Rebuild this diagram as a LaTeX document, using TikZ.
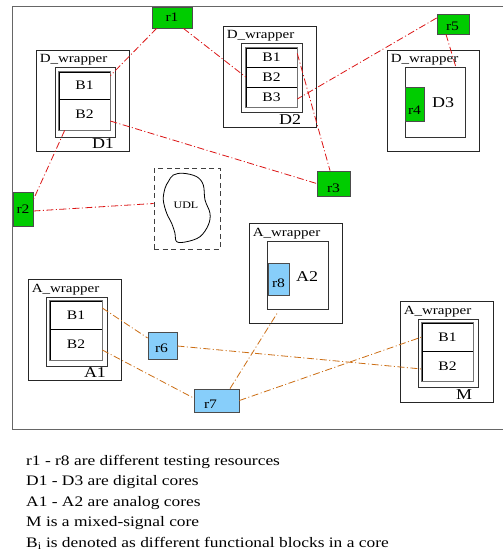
\documentclass[tikz,border=0pt]{standalone}
\usepackage{fontspec}
\setmainfont{Liberation Serif}[FakeStretch=1.2]
\usetikzlibrary{calc}
\definecolor{rgreen}{RGB}{0,204,0}
\definecolor{rblue}{RGB}{135,206,250}
\definecolor{redl}{RGB}{220,20,20}
\definecolor{orl}{RGB}{204,110,20}
\newcommand{\fs}[1]{\fontsize{#1}{#1}\selectfont}
\begin{document}
\begin{tikzpicture}[x=1pt,y=-1pt,
  box/.style={draw, inner sep=0pt, minimum width=#1},
  wrapbox/.style={draw=black!85, line width=0.8pt, inner sep=0pt},
  corebox/.style={draw=black!80, line width=1pt, inner sep=0pt},
  blkbox/.style={draw=black, line width=0.6pt, inner sep=0pt, font=\fs{13}},
  bgrp/.style={draw=black!55, line width=1.4pt},
  rg/.style={draw=black!70, line width=0.8pt, fill=rgreen, inner sep=0pt, font=\fs{13}},
  rb/.style={draw=black!70, line width=0.8pt, fill=rblue, inner sep=0pt, font=\fs{13}},
  wlab/.style={anchor=north west, inner sep=0pt, font=\fs{12.5}},
  clab/.style={inner sep=0pt, font=\fs{15}},
  rlab/.style={inner sep=0pt, font=\fs{13}},
  redc/.style={draw=redl, line width=0.8pt, dash pattern=on 7pt off 2.5pt on 1pt off 2.5pt},
  orc/.style={draw=orl, line width=0.8pt, dash pattern=on 7pt off 2.5pt on 1pt off 2.5pt},
  note/.style={anchor=base west, inner sep=0pt, font=\fs{14.5}}
]
\useasboundingbox (0,0) rectangle (503,559);
\fill[white] (0,0) rectangle (503,559);
% outer frame (right side outside picture)
\draw[black!60, line width=1pt] (503,7) -- (12,7) -- (12,429) -- (503,429);

% ---------- D1 ----------
\node[wrapbox, minimum width=93pt, minimum height=101pt] (dw1) at (82.5,100.5) {};
\node[wlab] (dw1l) at ([xshift=4pt,yshift=-5pt]dw1.north west) {D\_wrapper};
\node[corebox, minimum width=60pt, minimum height=69pt] (d1in) at (85,102.5) {};
\node[blkbox, minimum width=51pt, minimum height=27pt] (d1b1) at (84.5,85.5) {B1};
\node[blkbox, minimum width=51pt, minimum height=31pt] (d1b2) at (84.5,114.5) {B2};
\draw[bgrp] (d1b1.north west) rectangle (d1b2.south east);
\node[clab] (d1l) at (103,144) {D1};

% ---------- D2 ----------
\node[wrapbox, minimum width=93pt, minimum height=101pt] (dw2) at (269.5,76.5) {};
\node[wlab] (dw2l) at ([xshift=4pt,yshift=-5pt]dw2.north west) {D\_wrapper};
\node[corebox, minimum width=61pt, minimum height=69pt] (d2in) at (271.5,78.5) {};
\node[blkbox, minimum width=51pt, minimum height=19pt] (d2b1) at (271.5,57.5) {B1};
\node[blkbox, minimum width=51pt, minimum height=20pt] (d2b2) at (271.5,77) {B2};
\node[blkbox, minimum width=51pt, minimum height=20pt] (d2b3) at (271.5,97) {B3};
\draw[bgrp] (d2b1.north west) rectangle (d2b3.south east);
\node[clab] (d2l) at (290,120) {D2};

% ---------- D3 ----------
\node[wrapbox, minimum width=92pt, minimum height=101pt] (dw3) at (433,100.5) {};
\node[wlab] (dw3l) at ([xshift=4pt,yshift=-5pt]dw3.north west) {D\_wrapper};
\node[corebox, minimum width=60pt, minimum height=69pt] (d3in) at (435,102.5) {};
\node[rg, minimum width=19pt, minimum height=34pt] (r4) at (414.5,104) {};
\node[rlab] (r4t) at (414.5,110) {r4};
\node[clab] (d3l) at (443,103) {D3};

% ---------- A2 ----------
\node[wrapbox, minimum width=93pt, minimum height=100pt] (aw2) at (295.5,273) {};
\node[wlab] (aw2l) at ([xshift=4pt,yshift=-5pt]aw2.north west) {A\_wrapper};
\node[corebox, minimum width=61pt, minimum height=68pt] (a2in) at (297.5,275) {};
\node[rb, minimum width=21pt, minimum height=32pt] (r8) at (278.5,279) {};
\node[rlab] (r8t) at (278.5,283) {r8};
\node[clab] (a2l) at (307,277) {A2};

% ---------- A1 ----------
\node[wrapbox, minimum width=93pt, minimum height=101pt] (aw1) at (74.5,329.5) {};
\node[wlab] (aw1l) at ([xshift=4pt,yshift=-5pt]aw1.north west) {A\_wrapper};
\node[corebox, minimum width=61pt, minimum height=69pt] (a1in) at (76.5,331.5) {};
\node[blkbox, minimum width=52pt, minimum height=28pt] (a1b1) at (76,315) {B1};
\node[blkbox, minimum width=52pt, minimum height=31pt] (a1b2) at (76,344.5) {B2};
\draw[bgrp] (a1b1.north west) rectangle (a1b2.south east);
\node[clab] (a1l) at (95,373) {A1};

% ---------- M ----------
\node[wrapbox, minimum width=93pt, minimum height=101pt] (mw) at (446.5,351.5) {};
\node[wlab] (mwl) at ([xshift=4pt,yshift=-5pt]mw.north west) {A\_wrapper};
\node[corebox, minimum width=60pt, minimum height=68pt] (min) at (448,353) {};
\node[blkbox, minimum width=51pt, minimum height=28pt] (mb1) at (447.5,337) {B1};
\node[blkbox, minimum width=51pt, minimum height=30pt] (mb2) at (447.5,366) {B2};
\draw[bgrp] (mb1.north west) rectangle (mb2.south east);
\node[clab] (ml) at (464,395) {M};

% ---------- UDL ----------
\node[draw=black!75, dashed, dash pattern=on 5pt off 3.5pt, line width=0.9pt, inner sep=0pt,
      minimum width=66pt, minimum height=81pt] (udl) at (187,208.5) {};
\draw[black, line width=0.8pt] plot[smooth cycle, tension=0.6] coordinates {
  (168.3,181.7) (173.3,175) (183.3,173.3) (196.7,176.7) (203.3,185) (205,200)
  (210,213.3) (208.3,225) (200,236.7) (186.7,241.7) (176.7,241.7) (175,233.3)
  (171.7,223.3) (166.7,213.3) (163.3,200) (165,188.3)};
\node[inner sep=0pt, font=\fs{10}] (udlt) at (186,205) {UDL};

% ---------- resources ----------
\node[rg, minimum width=40pt, minimum height=21pt] (r1) at (172,17.5) {r1};
\node[rg, minimum width=20pt, minimum height=34pt] (r2) at (23,209) {r2};
\node[rg, minimum width=33pt, minimum height=25pt] (r3) at (333.5,183.5) {};
\node[rlab] (r3t) at (333.5,188) {r3};
\node[rg, minimum width=32pt, minimum height=20pt] (r5) at (453,24) {};
\node[rlab] (r5t) at (452.5,26.5) {r5};
\node[rb, minimum width=29pt, minimum height=27pt] (r6) at (162.5,345.5) {};
\node[rlab] (r6t) at (161.5,348) {r6};
\node[rb, minimum width=45pt, minimum height=23pt] (r7) at (216.5,400.5) {};
\node[rlab] (r7t) at (210.5,404) {r7};

% ---------- red connectors ----------
\draw[redc] ([xshift=5pt]r1.south west) -- ([yshift=-4pt]d1b1.north east);
\draw[redc] ([xshift=-9pt]r1.south east) -- (d2b2.west);
\draw[redc] ([yshift=-6.5pt]d1b2.east) -- (r3.west);
\draw[redc] ([xshift=6pt]d1b2.south west) -- ([yshift=-8pt]r2.north east);
\draw[redc] ([yshift=-2pt]r2.east) -- ([yshift=5pt]udl.west);
\draw[redc] ([yshift=4pt]d2b1.east) -- ([xshift=-3.5pt]r3.north);
\draw[redc] ([yshift=6pt]r5.west) -- ([yshift=-2pt]d2b3.east);
\draw[redc] ([xshift=-7pt]r5.south) -- ([xshift=21pt]d3in.north);

% ---------- orange connectors ----------
\draw[orc] ([yshift=7pt]a1b1.east) -- ([yshift=7.5pt]r6.west);
\draw[orc] ([yshift=-5.5pt]a1b2.east) -- ([yshift=2.5pt]r7.west);
\draw[orc] ([yshift=-0.5pt]r6.east) -- ([yshift=-3pt]mb2.west);
\draw[orc] (r7.east) -- (mb1.west);
\draw[orc] ([xshift=13.5pt]r7.north) -- ([xshift=-20.5pt,yshift=-4pt]a2in.south);

% ---------- notes ----------
\node[note] (n1) at (26,465) {r1 - r8 are different testing resources};
\node[note] (n2) at (26,485.5) {D1 - D3 are digital cores};
\node[note] (n3) at (26,506) {A1 - A2 are analog cores};
\node[note] (n4) at (26,526.5) {M is a mixed-signal core};
\node[note] (n5) at (26,547) {B\textsubscript{i} is denoted as different functional blocks in a core};
\end{tikzpicture}
\end{document}
